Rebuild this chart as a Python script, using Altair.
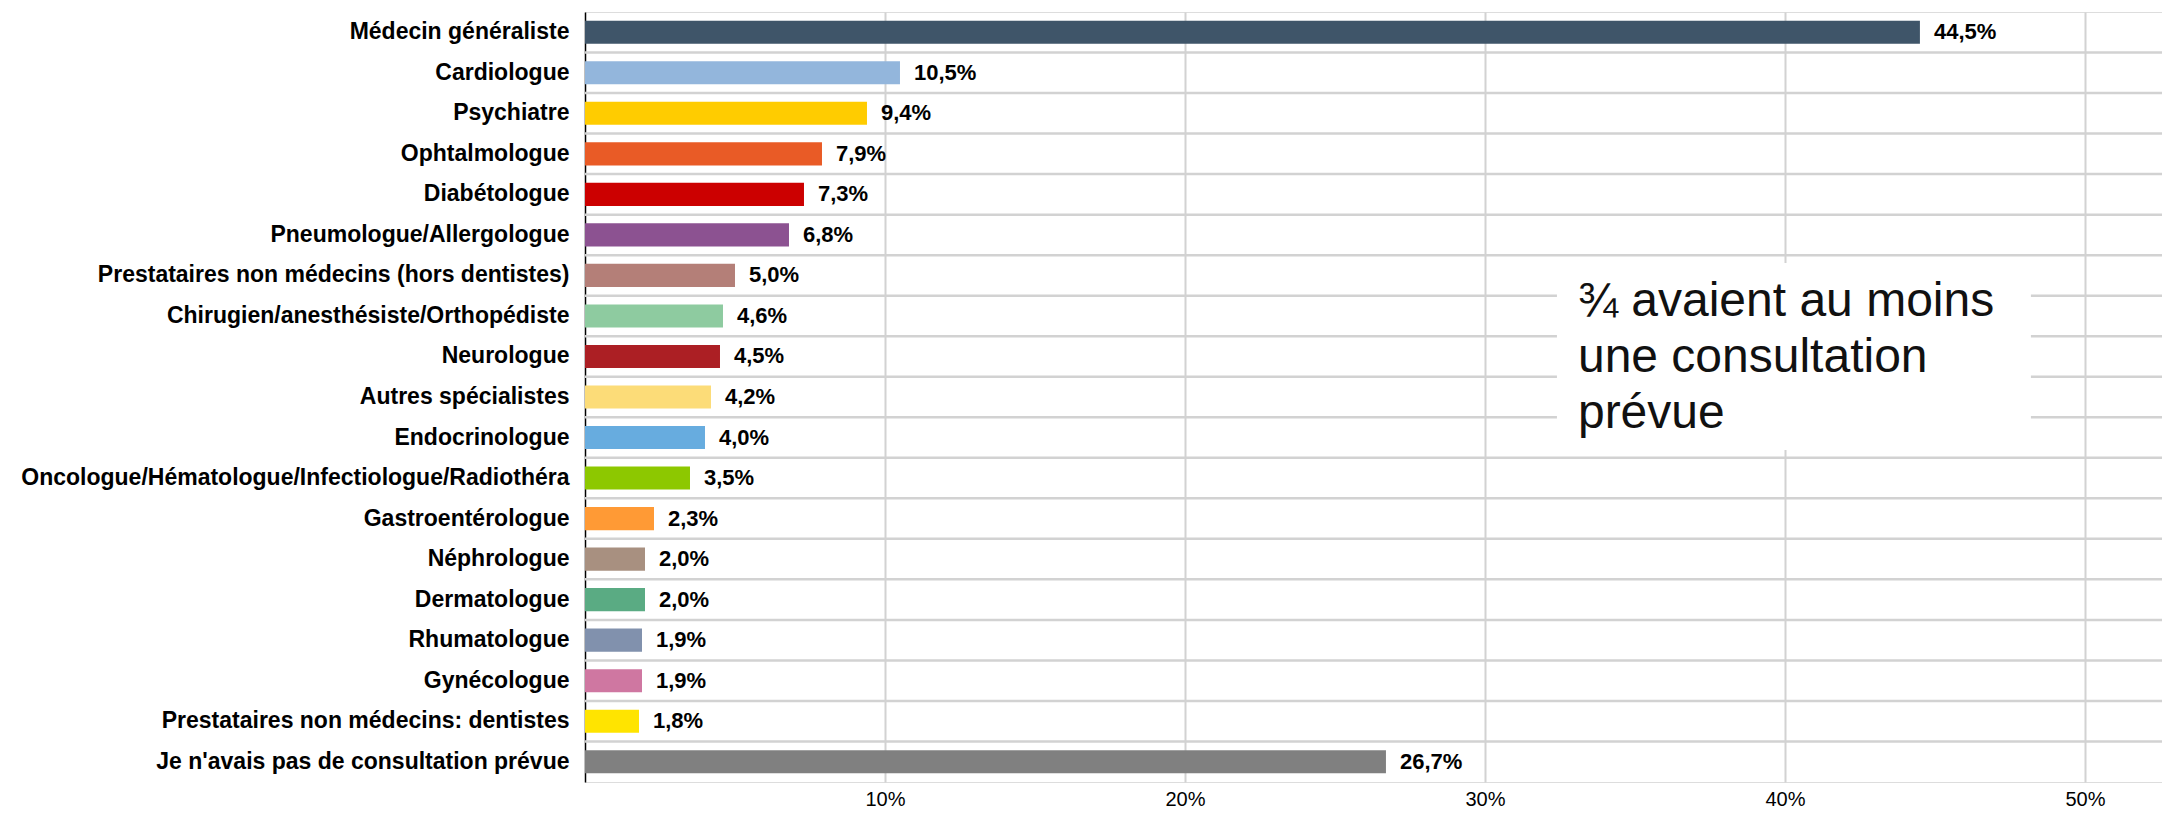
import altair as alt
import pandas as pd

categories = [
    "Médecin généraliste",
    "Cardiologue",
    "Psychiatre",
    "Ophtalmologue",
    "Diabétologue",
    "Pneumologue/Allergologue",
    "Prestataires non médecins (hors dentistes)",
    "Chirugien/anesthésiste/Orthopédiste",
    "Neurologue",
    "Autres spécialistes",
    "Endocrinologue",
    "Oncologue/Hématologue/Infectiologue/Radiothéra",
    "Gastroentérologue",
    "Néphrologue",
    "Dermatologue",
    "Rhumatologue",
    "Gynécologue",
    "Prestataires non médecins: dentistes",
    "Je n'avais pas de consultation prévue",
]
values = [44.5, 10.5, 9.4, 7.9, 7.3, 6.8, 5.0, 4.6, 4.5, 4.2, 4.0, 3.5,
          2.3, 2.0, 2.0, 1.9, 1.9, 1.8, 26.7]
colors = [
    "#3f5569", "#93b6dc", "#ffcc00", "#e95b26", "#cc0000", "#8c5291",
    "#b47f78", "#8ecba0", "#ac1f24", "#fcdc78", "#67acdf", "#8dc800",
    "#ff9a35", "#a89080", "#5aab83", "#8191ad", "#cf77a1", "#ffe400",
    "#808080",
]
tick_values = [10, 20, 30, 40, 50]
annotation_text = "¾ avaient au moins\nune consultation\nprévue"

df = pd.DataFrame({"cat": categories, "val": values})
annot = pd.DataFrame({"x1": [32.4], "x2": [48.2], "tx": [33.1], "label": [annotation_text]})

W, H = 1577, 770
FONT = "Liberation Sans"

x_scale = alt.Scale(domain=[0, 52.57], nice=False, zero=True)
x_axis = alt.Axis(
    title=None, values=tick_values, labelExpr="datum.value + '%'",
    grid=True, gridColor="#d2d2d2", gridWidth=2, ticks=False, domain=False,
    labelFontSize=20, labelPadding=7, labelColor="#000", labelFont=FONT,
)
y_axis = alt.Axis(
    title=None, labelFont=FONT, labelFontWeight="bold", labelFontSize=23,
    labelColor="#000", labelPadding=16, ticks=False, domainColor="#000",
    domainWidth=1.5, grid=False, labelLimit=800,
)
band_scale = alt.Scale(domain=categories, paddingInner=0.43, paddingOuter=0.215)

grid_rules = alt.Chart(df).transform_filter(
    alt.datum.cat != categories[0]
).mark_rule(color="#d2d2d2", strokeWidth=2.5).encode(
    y=alt.Y("cat:N", scale=alt.Scale(domain=categories, paddingInner=0, paddingOuter=0),
            bandPosition=0, axis=None)
)

bars = alt.Chart(df).mark_bar().encode(
    x=alt.X("val:Q", scale=x_scale, axis=x_axis),
    y=alt.Y("cat:N", scale=band_scale, axis=y_axis),
    color=alt.Color("cat:N", scale=alt.Scale(domain=categories, range=colors), legend=None),
)

labels = alt.Chart(df).transform_calculate(
    label="replace(format(datum.val, '.1f'), '.', ',') + '%'"
).mark_text(align="left", baseline="middle", dx=14, fontWeight="bold",
            fontSize=22, font=FONT, color="#000").encode(
    x=alt.X("val:Q", scale=x_scale),
    y=alt.Y("cat:N", scale=band_scale),
    text="label:N",
)

box = alt.Chart(annot).mark_rect(color="white").encode(
    x=alt.X("x1:Q", scale=x_scale), x2="x2:Q",
    y=alt.value(251), y2=alt.value(438),
)
box_text = alt.Chart(annot).mark_text(
    align="left", baseline="top", fontSize=48, lineHeight=56, font=FONT,
    color="#111", lineBreak="\n",
).encode(
    x=alt.X("tx:Q", scale=x_scale), y=alt.value(266), text="label:N",
)

main = alt.layer(bars, labels, box, box_text)

chart = alt.layer(grid_rules, main).resolve_scale(y="independent").properties(
    width=W, height=H,
    padding={"left": 577, "top": 4, "right": 0, "bottom": 27},
    autosize=alt.AutoSizeParams(type="none"),
).configure_view(stroke=None).configure(background="white")

chart.save("out.html", embed_options={"renderer": "svg", "actions": False})
